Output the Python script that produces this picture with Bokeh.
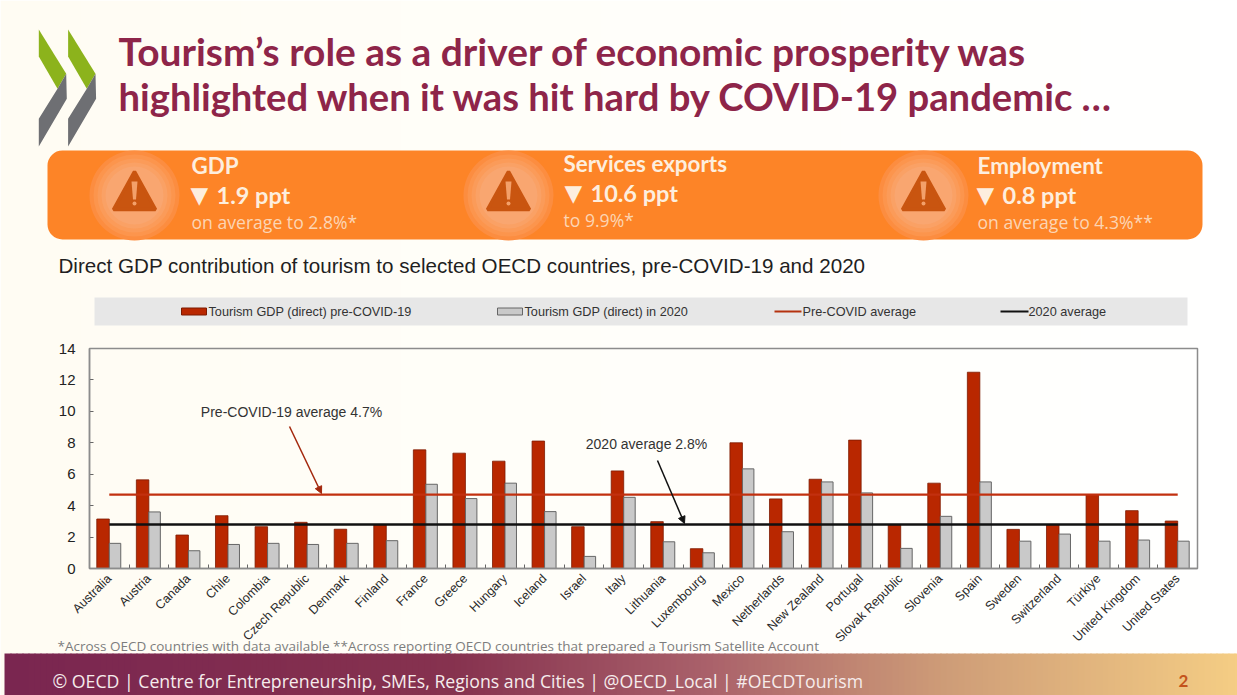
import numpy as np
from bokeh.embed import file_html
from bokeh.models import (Arrow, BoxAnnotation, FixedTicker, Label, LinearAxis, NormalHead,
                          PolyAnnotation, Range1d)
from bokeh.plotting import figure
from bokeh.resources import INLINE

countries = ["Australia", "Austria", "Canada", "Chile", "Colombia", "Czech Republic", "Denmark",
             "Finland", "France", "Greece", "Hungary", "Iceland", "Israel", "Italy", "Lithuania",
             "Luxembourg", "Mexico", "Netherlands", "New Zealand", "Portugal", "Slovak Republic",
             "Slovenia", "Spain", "Sweden", "Switzerland", "Türkiye", "United Kingdom", "United States"]
pre_covid = [3.15, 5.64, 2.13, 3.36, 2.66, 2.94, 2.50, 2.79, 7.55, 7.34, 6.83, 8.11, 2.66, 6.21,
             2.98, 1.26, 8.00, 4.43, 5.68, 8.17, 2.79, 5.43, 12.49, 2.49, 2.79, 4.70, 3.68, 3.02]
in_2020 = [1.60, 3.60, 1.13, 1.53, 1.60, 1.53, 1.60, 1.77, 5.36, 4.45, 5.43, 3.62, 0.77, 4.53,
           1.70, 1.00, 6.34, 2.34, 5.51, 4.81, 1.28, 3.32, 5.51, 1.74, 2.19, 1.74, 1.81, 1.74]
pre_covid_average = 4.7
average_2020 = 2.8
y_ticks = [0, 2, 4, 6, 8, 10, 12, 14]

SANS = "Liberation Sans"
HEAD = "Lato"
BODY = "Open Sans"
WINE = "#8e2549"
ORANGE = "#fd8427"
BAR_RED = "#b92700"
BAR_GREY = "#c9c9c9"
FRAME_GREY = "#8c8c8c"

# Chart box on the page, in pixels
BOX_LEFT, BOX_RIGHT, BOX_TOP, BOX_BOTTOM = 89, 1197, 348, 568
PAGE_W, PAGE_H = 1237, 695

# The figure's main ranges run in page pixels; the chart's own scales are extra ranges
# extended so that slots 0.5-28.5 and values 0-14 land on the chart box.
x_per_px = 28 / (BOX_RIGHT - BOX_LEFT)
y_per_px = 14 / (BOX_BOTTOM - BOX_TOP)
p = figure(width=PAGE_W, height=PAGE_H, output_backend="svg", toolbar_location=None,
           x_range=Range1d(0, PAGE_W), y_range=Range1d(PAGE_H, 0),
           x_axis_type=None, y_axis_type=None,
           min_border=0, background_fill_alpha=0, border_fill_color="#fffefb",
           outline_line_color=None)
p.grid.visible = False
p.extra_x_ranges["chart"] = Range1d(0.5 - BOX_LEFT * x_per_px, 28.5 + (PAGE_W - BOX_RIGHT) * x_per_px)
p.extra_y_ranges["chart"] = Range1d(-(PAGE_H - BOX_BOTTOM) * y_per_px, 14 + BOX_TOP * y_per_px)
CHART = dict(x_range_name="chart", y_range_name="chart")


def box(left, right, top, bottom, color, radius=0, level="annotation", line=None, alpha=1.0, line_width=1):
    p.add_layout(BoxAnnotation(left=left, right=right, top=top, bottom=bottom, fill_color=color,
                               fill_alpha=alpha, line_alpha=1 if line else 0, line_color=line,
                               line_width=line_width, border_radius=radius, level=level))


def poly(xs, ys, color, line=None, line_width=1, level="annotation"):
    p.add_layout(PolyAnnotation(xs=xs, ys=ys, fill_color=color, fill_alpha=1,
                                line_alpha=1 if line else 0, line_color=line,
                                line_width=line_width, level=level,
                                xs_units="data", ys_units="data"))


def text(x, y, s, size, color, font=HEAD, style="normal", align="left"):
    p.add_layout(Label(x=x, y=y, text=s, text_font=font, text_font_size=f"{size}px",
                       text_color=color, text_font_style=style, text_align=align,
                       text_baseline="middle"))


def hex_mix(stops, x):
    xs, cols = zip(*stops)
    rgb = [np.interp(x, xs, [int(c[i:i + 2], 16) for c in cols]) for i in (1, 3, 5)]
    return "#%02x%02x%02x" % tuple(int(round(v)) for v in rgb)


# Page background, warm on the left and fading to white on the right
for x0 in range(0, PAGE_W, 40):
    box(x0, x0 + 41, 0, PAGE_H, hex_mix([(0, "#fffcf3"), (500, "#fffef9"), (1237, "#ffffff")], x0),
        level="underlay")

# Logo chevrons
for dx in (0, 29.3):
    poly([38.3 + dx, 65.7 + dx, 57 + dx, 38.3 + dx], [29, 73.3, 88.3, 56], "#8cb31c")
    poly([65.7 + dx, 66.3 + dx, 38.3 + dx, 38.3 + dx, 57 + dx], [73.3, 98.3, 146, 118.3, 88.3], "#6e6f73")

# Headline
text(118, 50, "Tourism’s role as a driver of economic prosperity was", 38.9, WINE, style="bold")
text(118, 95, "highlighted when it was hit hard by COVID-19 pandemic …", 38.2, WINE, style="bold")

# Orange key-figures banner with warning icons
box(47, 1202, 150, 239, ORANGE, radius=15)
for cx in (134, 508, 923):
    for r, col in ((45, "#fc8d40"), (41, "#fc954d"), (37, "#fb9b59"), (33, "#faa165"), (29, "#f9a670")):
        box(cx - r, cx + r, 195 - r, 195 + r, col, radius=r)
    poly([cx, cx + 21, cx - 21], [171, 209, 209], "#c95510", line="#c95510", line_width=3.5)
    poly([cx - 3, cx + 3, cx + 1.5, cx - 1.5], [181, 181, 199, 199], "#f3a06a")
    box(cx - 2, cx + 2, 201, 205, "#f3a06a", radius=2)

LIGHT = "#fdeede"
SOFT = "#fcd5b4"
TRIANGLE_FONT = "DejaVu Sans"
text(191, 165, "GDP", 22.4, LIGHT, style="bold")
text(190, 194, "▼", 23, LIGHT, font=TRIANGLE_FONT)
text(216, 194, "1.9 ppt", 23.5, LIGHT, style="bold")
text(191, 221, "on average to 2.8%*", 17.6, SOFT, font=BODY)
text(563, 163, "Services exports", 22.4, LIGHT, style="bold")
text(564, 192, "▼", 23, LIGHT, font=TRIANGLE_FONT)
text(590, 192, "10.6 ppt", 23.5, LIGHT, style="bold")
text(563, 219, "to 9.9%*", 17.6, SOFT, font=BODY)
text(977, 165, "Employment", 22.4, LIGHT, style="bold")
text(976, 194, "▼", 23, LIGHT, font=TRIANGLE_FONT)
text(1002, 194, "0.8 ppt", 23.5, LIGHT, style="bold")
text(977, 221, "on average to 4.3%**", 17.6, SOFT, font=BODY)

# Chart title
text(58, 264.5, "Direct GDP contribution of tourism to selected OECD countries, pre-COVID-19 and 2020",
     20.6, "#1f1f1f", font=SANS)

# Legend strip
box(94, 1187, 297, 325, "#e7e7e7")
box(181, 206, 307.5, 314.5, BAR_RED, line="#7d1a00")
text(208, 311, "Tourism GDP (direct) pre-COVID-19", 12.7, "#333333", font=SANS)
box(497, 522, 307.5, 314.5, BAR_GREY, line="#666666")
text(524, 311, "Tourism GDP (direct) in 2020", 12.7, "#333333", font=SANS)
box(774, 801, 310, 312, "#b5320f")
text(802, 311, "Pre-COVID average", 12.7, "#333333", font=SANS)
box(1000, 1028, 310, 312, "#111111")
text(1028, 311, "2020 average", 12.7, "#333333", font=SANS)

# Footnote and footer bar
text(57, 645, "*Across OECD countries with data available  **Across reporting OECD countries that prepared a Tourism Satellite Account",
     13.5, "#7d7d7d", font=BODY)
footer_stops = [(4, "#7a2650"), (450, "#86324f"), (700, "#a9606a"), (950, "#cf9e78"), (1237, "#f5cd84")]
for x0 in range(4, PAGE_W, 6):
    box(x0, x0 + 7, 653, PAGE_H, hex_mix(footer_stops, x0))
text(52, 680, "© OECD | Centre for Entrepreneurship, SMEs, Regions and Cities | @OECD_Local | #OECDTourism",
     17.7, "#f6ecec", font=BODY)
text(1183, 680, "2", 17, "#c4531c", style="bold", align="center")

# Bars, drawn side by side from the centre of each country slot
x = np.arange(1, len(countries) + 1)
red_width, grey_width = 0.316, 0.29
p.vbar(x=x - red_width / 2, top=pre_covid, width=red_width, fill_color=BAR_RED,
       line_color="#7d1a00", line_width=0.8, **CHART)
p.vbar(x=x + grey_width / 2, top=in_2020, width=grey_width, fill_color=BAR_GREY,
       line_color="#666666", line_width=1, **CHART)

# Average lines
p.line(x=[x[0], x[-1]], y=[pre_covid_average] * 2, line_color="#c2300f", line_width=2.2, **CHART)
p.line(x=[x[0], x[-1]], y=[average_2020] * 2, line_color="#111111", line_width=2.4, **CHART)

# Chart box and axes, pinned to the chart's own zero lines
box(BOX_LEFT, BOX_RIGHT, BOX_TOP, BOX_BOTTOM, None, line=FRAME_GREY, alpha=0, line_width=1.5)
left = LinearAxis(ticker=FixedTicker(ticks=y_ticks), fixed_location=0.5, bounds=(0, 14),
                  axis_line_color=FRAME_GREY, axis_line_width=1.5,
                  major_tick_in=4, major_tick_out=0, major_tick_line_color="#666666",
                  minor_tick_line_color=None, major_label_text_font=SANS,
                  major_label_text_font_size="15px", major_label_text_color="#222222",
                  major_label_standoff=14, **CHART)
p.add_layout(left, "left")
bottom = LinearAxis(ticker=FixedTicker(ticks=list(x), minor_ticks=list(np.arange(0.5, 29, 1.0))),
                    fixed_location=0, bounds=(0.5, 28.5),
                    axis_line_color=FRAME_GREY, axis_line_width=1.5,
                    major_tick_in=0, major_tick_out=0, minor_tick_in=4, minor_tick_out=0,
                    minor_tick_line_color="#666666", major_label_text_font=SANS,
                    major_label_text_font_size="12.5px", major_label_text_color="#2a2a2a",
                    major_label_orientation=np.pi / 4, major_label_standoff=8,
                    major_label_overrides={int(i): c for i, c in zip(x, countries)}, **CHART)
p.add_layout(bottom, "below")

# Callouts for the two averages
text(291, 411, "Pre-COVID-19 average 4.7%", 14, "#333333", font=SANS, align="center")
p.add_layout(Arrow(x_start=289, y_start=426, x_end=321, y_end=493, line_color="#a3270c", line_width=1.5,
                   end=NormalHead(size=7, fill_color="#a3270c", line_color="#a3270c")))
text(646, 443, "2020 average 2.8%", 14, "#333333", font=SANS, align="center")
p.add_layout(Arrow(x_start=657, y_start=460, x_end=684, y_end=523, line_color="#111111", line_width=1.5,
                   end=NormalHead(size=7, fill_color="#111111", line_color="#111111")))

open("out.html", "w").write(file_html(p, INLINE))
